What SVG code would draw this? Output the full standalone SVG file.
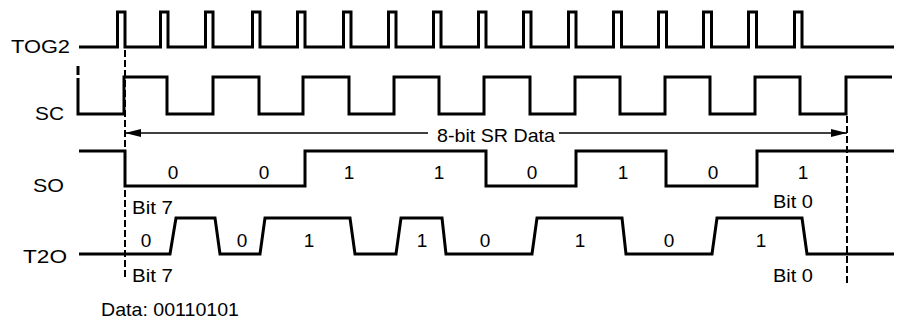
<svg xmlns="http://www.w3.org/2000/svg" width="898" height="320" viewBox="0 0 898 320">
<style>
.sig{fill:none;stroke:#000;stroke-width:3;stroke-linejoin:miter;stroke-linecap:butt}
.dash{fill:none;stroke:#000;stroke-width:2;stroke-dasharray:7 3}
.thin{fill:none;stroke:#000;stroke-width:1.6}
text{font-family:"Liberation Sans",Arial,Helvetica,sans-serif;font-size:19px;fill:#000}
.lbl{text-anchor:middle}
</style>
<defs>
<marker id="ah" viewBox="0 0 16 8" refX="16" refY="4" markerWidth="16" markerHeight="8" markerUnits="userSpaceOnUse" orient="auto-start-reverse">
<path d="M0,0 L16,4 L0,8 Z" fill="#000"/>
</marker>
</defs>
<rect width="898" height="320" fill="#fff"/>
<g id="labels">
<text x="11" y="53" textLength="59" lengthAdjust="spacingAndGlyphs">TOG2</text>
<text x="35" y="120" textLength="29" lengthAdjust="spacingAndGlyphs">SC</text>
<text x="33" y="192" textLength="31" lengthAdjust="spacingAndGlyphs">SO</text>
<text x="23" y="263" textLength="44" lengthAdjust="spacingAndGlyphs">T2O</text>
</g>
<g id="connectors">
<line class="dash" x1="125" y1="50" x2="125" y2="278"/>
<line class="dash" x1="847" y1="116" x2="847" y2="283"/>
<line class="sig" x1="78" y1="66" x2="78" y2="75"/>
<line class="thin" x1="125" y1="133" x2="428" y2="133" marker-start="url(#ah)"/>
<line class="thin" x1="559" y1="133" x2="847" y2="133" marker-end="url(#ah)"/>
<text x="437" y="142" textLength="118" lengthAdjust="spacingAndGlyphs">8-bit SR Data</text>
</g>
<g id="TOG2">
<path class="sig" d="M79,47 H117.5 V12 H125 V47 H160.5 V12 H168 V47 H205.5 V12 H213 V47 H252.5 V12 H260 V47 H297.5 V12 H305 V47 H343.5 V12 H351 V47 H388.5 V12 H396 V47 H433.5 V12 H441 V47 H478.5 V12 H486 V47 H523.5 V12 H531 V47 H568.5 V12 H576 V47 H613.5 V12 H621.5 V47 H658.5 V12 H666.5 V47 H703.5 V12 H711.5 V47 H748.5 V12 H756.5 V47 H794.5 V12 H802 V47 H894"/>
</g>
<g id="SC">
<path class="sig" d="M78,78 V114 H124 V77 H167 V114 H213 V77 H259 V114 H303 V77 H349 V114 H394 V77 H439 V114 H484 V77 H530 V114 H575 V77 H620 V114 H665 V77 H710 V114 H755 V77 H800 V114 H846 V77 H892"/>
</g>
<g id="SO">
<path class="sig" d="M79,151 H125 V186 H305 V151 H486 V186 H576 V151 H666 V186 H757 V151 H894"/>
<text class="lbl" x="173" y="179">0</text>
<text class="lbl" x="264" y="179">0</text>
<text class="lbl" x="349" y="179">1</text>
<text class="lbl" x="439" y="179">1</text>
<text class="lbl" x="532" y="179">0</text>
<text class="lbl" x="623" y="179">1</text>
<text class="lbl" x="713" y="179">0</text>
<text class="lbl" x="803" y="179">1</text>
<text x="132" y="214" textLength="41" lengthAdjust="spacingAndGlyphs">Bit 7</text>
<text x="773" y="208" textLength="40" lengthAdjust="spacingAndGlyphs">Bit 0</text>
</g>
<g id="T2O">
<path class="sig" d="M79,254 H170 L176,218 H215 L220,254 H260 L265,218 H350 L355,254 H396 L401,218 H442 L446,254 H532 L537,218 H622 L626,254 H712 L717,218 H802 L807,254 H894"/>
<text class="lbl" x="146" y="247">0</text>
<text class="lbl" x="242" y="247">0</text>
<text class="lbl" x="309" y="247">1</text>
<text class="lbl" x="422" y="247">1</text>
<text class="lbl" x="485" y="247">0</text>
<text class="lbl" x="580" y="247">1</text>
<text class="lbl" x="669" y="247">0</text>
<text class="lbl" x="761" y="247">1</text>
<text x="132" y="282" textLength="41" lengthAdjust="spacingAndGlyphs">Bit 7</text>
<text x="773" y="282" textLength="40" lengthAdjust="spacingAndGlyphs">Bit 0</text>
</g>
<g id="data">
<text x="101" y="316" textLength="138" lengthAdjust="spacingAndGlyphs">Data: 00110101</text>
</g>
</svg>
